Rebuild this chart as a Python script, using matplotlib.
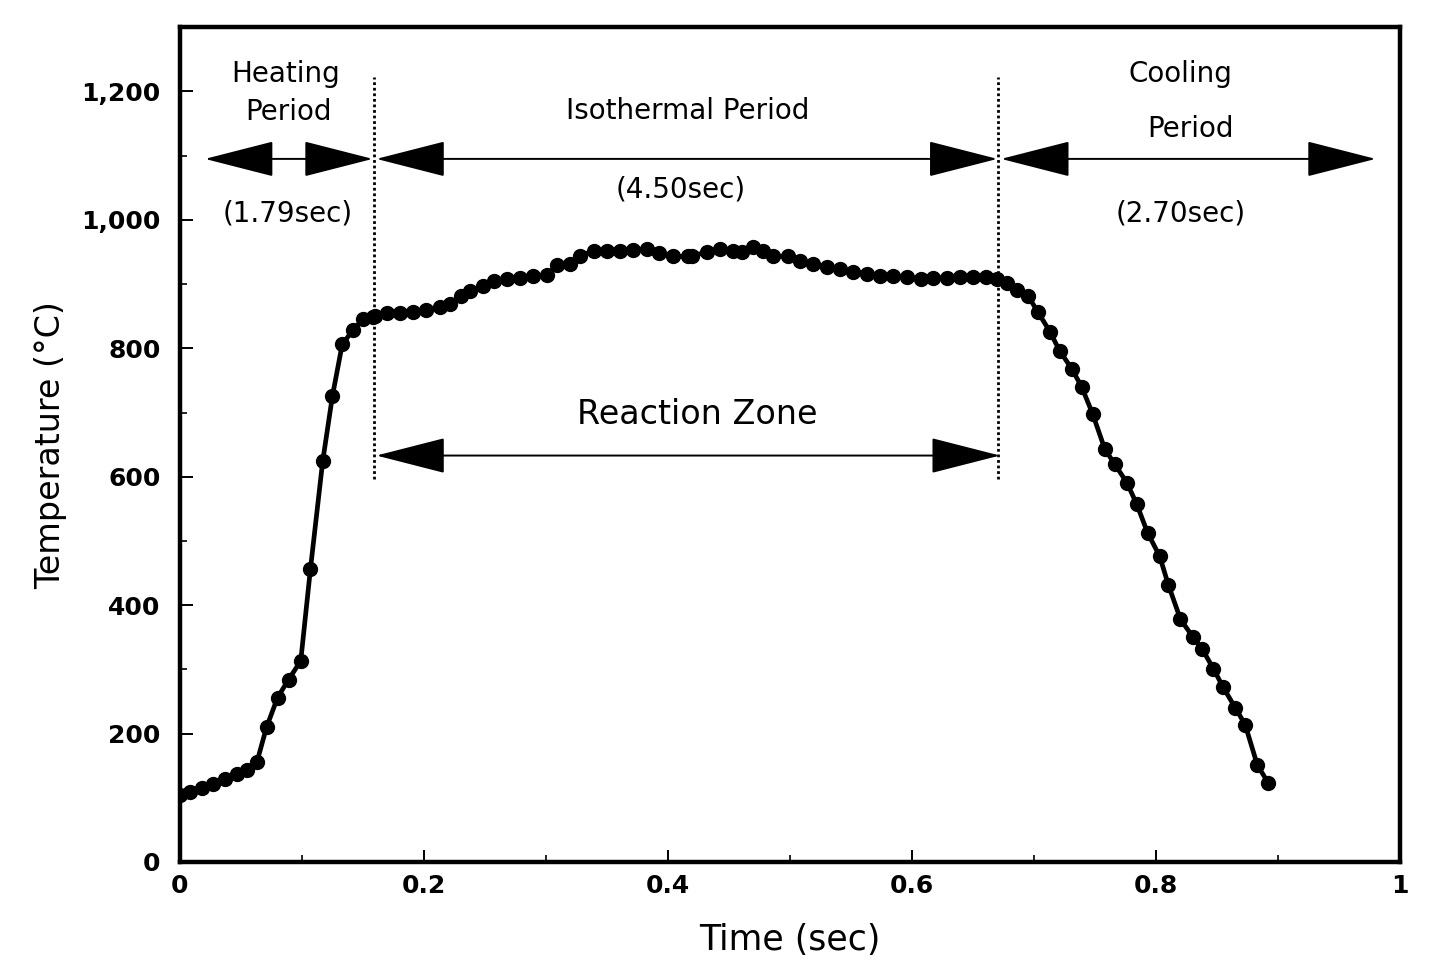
import matplotlib
matplotlib.use("Agg")
import matplotlib.pyplot as plt
from matplotlib.patches import FancyArrowPatch
from matplotlib.ticker import MultipleLocator

# ---- data ----
time_s = [0.000, 0.008, 0.018, 0.027, 0.037, 0.047, 0.055, 0.063, 0.071, 0.080,
          0.089, 0.099, 0.107, 0.117, 0.125, 0.133, 0.142, 0.150, 0.158,
          0.160, 0.170, 0.180, 0.191, 0.202, 0.213, 0.221, 0.230, 0.238, 0.248,
          0.257, 0.268, 0.279, 0.289, 0.301, 0.309, 0.320, 0.328, 0.339, 0.350,
          0.361, 0.371, 0.383, 0.393, 0.404, 0.416, 0.420, 0.432, 0.443, 0.453,
          0.461, 0.470, 0.478, 0.486, 0.498, 0.508, 0.519, 0.530, 0.541, 0.552,
          0.563, 0.574, 0.584, 0.596, 0.607, 0.617, 0.629, 0.639, 0.650, 0.661,
          0.670, 0.678, 0.686, 0.695, 0.703, 0.713, 0.721, 0.731, 0.739, 0.748,
          0.758, 0.766, 0.776, 0.784, 0.793, 0.803, 0.810, 0.820, 0.830, 0.838,
          0.847, 0.855, 0.865, 0.873, 0.883, 0.892]
temp_c = [105, 109, 115, 121, 130, 137, 143, 155, 210, 256,
          284, 313, 457, 624, 726, 806, 829, 845, 848,
          850, 855, 855, 857, 860, 865, 869, 882, 889, 897,
          905, 908, 910, 913, 914, 930, 932, 944, 952, 952,
          952, 953, 955, 949, 943, 943, 944, 950, 954, 952,
          950, 958, 952, 944, 943, 936, 931, 927, 924, 919,
          916, 913, 913, 911, 908, 910, 910, 911, 911, 911,
          908, 902, 891, 882, 857, 826, 796, 768, 740, 698,
          643, 620, 591, 558, 513, 476, 432, 378, 351, 331,
          301, 272, 240, 214, 151, 123]

period_bounds = [0.159, 0.6705]           # dotted boundary lines
heat_arrow = [0.0205, 0.158]
iso_arrow = [0.161, 0.670]
cool_arrow = [0.673, 0.980]
reaction_arrow = [0.161, 0.672]
x_ticks = [0, 0.2, 0.4, 0.6, 0.8, 1]
x_tick_labels = ["0", "0.2", "0.4", "0.6", "0.8", "1"]
y_ticks = [0, 200, 400, 600, 800, 1000, 1200]
y_tick_labels = ["0", "200", "400", "600", "800", "1,000", "1,200"]

plt.rcParams['font.family'] = ['DejaVu Sans']

fig = plt.figure(figsize=(14.36, 9.74), dpi=100)
ax = fig.add_axes([0.1253, 0.115, 0.8497, 0.857])

ax.plot(time_s, temp_c, color='black', lw=3.4, marker='o', ms=10,
        markerfacecolor='black', markeredgecolor='black', zorder=3)

ax.set_xlim(0, 1)
ax.set_ylim(0, 1300)

ax.set_xticks(x_ticks)
ax.set_xticklabels(x_tick_labels)
ax.set_yticks(y_ticks)
ax.set_yticklabels(y_tick_labels)
ax.xaxis.set_minor_locator(MultipleLocator(0.1))
ax.yaxis.set_minor_locator(MultipleLocator(100))

ax.tick_params(axis='both', which='major', direction='in', length=9, width=1.4,
               labelsize=18)
ax.tick_params(axis='both', which='minor', direction='in', length=5, width=1.2)
ax.tick_params(axis='y', which='both', pad=14, right=False)
ax.tick_params(axis='x', which='both', pad=9, top=False)
for lab in ax.get_xticklabels() + ax.get_yticklabels():
    lab.set_fontweight('bold')

for sp in ax.spines.values():
    sp.set_linewidth(3.2)

ax.set_xlabel("Time (sec)", fontsize=25, labelpad=18)
ax.set_ylabel("Temperature (°C)", fontsize=24, labelpad=10)

# dotted period boundaries
for xb in period_bounds:
    ax.plot([xb, xb], [596, 1222], color='black', lw=2.0,
            linestyle=(0, (1.0, 1.0)), zorder=2)


def dbl_arrow(x0, x1, y):
    arr = FancyArrowPatch((x0, y), (x1, y),
                          arrowstyle='<|-|>,head_length=45,head_width=11.5',
                          mutation_scale=1, lw=1.4, color='black',
                          shrinkA=0, shrinkB=0, zorder=4)
    ax.add_patch(arr)


y_arrow = 1095
dbl_arrow(heat_arrow[0], heat_arrow[1], y_arrow)
dbl_arrow(iso_arrow[0], iso_arrow[1], y_arrow)
dbl_arrow(cool_arrow[0], cool_arrow[1], y_arrow)
dbl_arrow(reaction_arrow[0], reaction_arrow[1], 633)

tk = dict(ha='center', va='center', fontsize=20, color='black')
ax.text(0.087, 1228, "Heating", **tk)
ax.text(0.089, 1168, "Period", **tk)
ax.text(0.088, 1010, "(1.79sec)", **tk)
ax.text(0.416, 1170, "Isothermal Period", **tk)
ax.text(0.410, 1047, "(4.50sec)", **tk)
ax.text(0.820, 1228, "Cooling", **tk)
ax.text(0.828, 1142, "Period", **tk)
ax.text(0.820, 1010, "(2.70sec)", **tk)
ax.text(0.424, 697, "Reaction Zone", ha='center', va='center', fontsize=24,
        color='black')

fig.savefig("out.png", dpi=100)
